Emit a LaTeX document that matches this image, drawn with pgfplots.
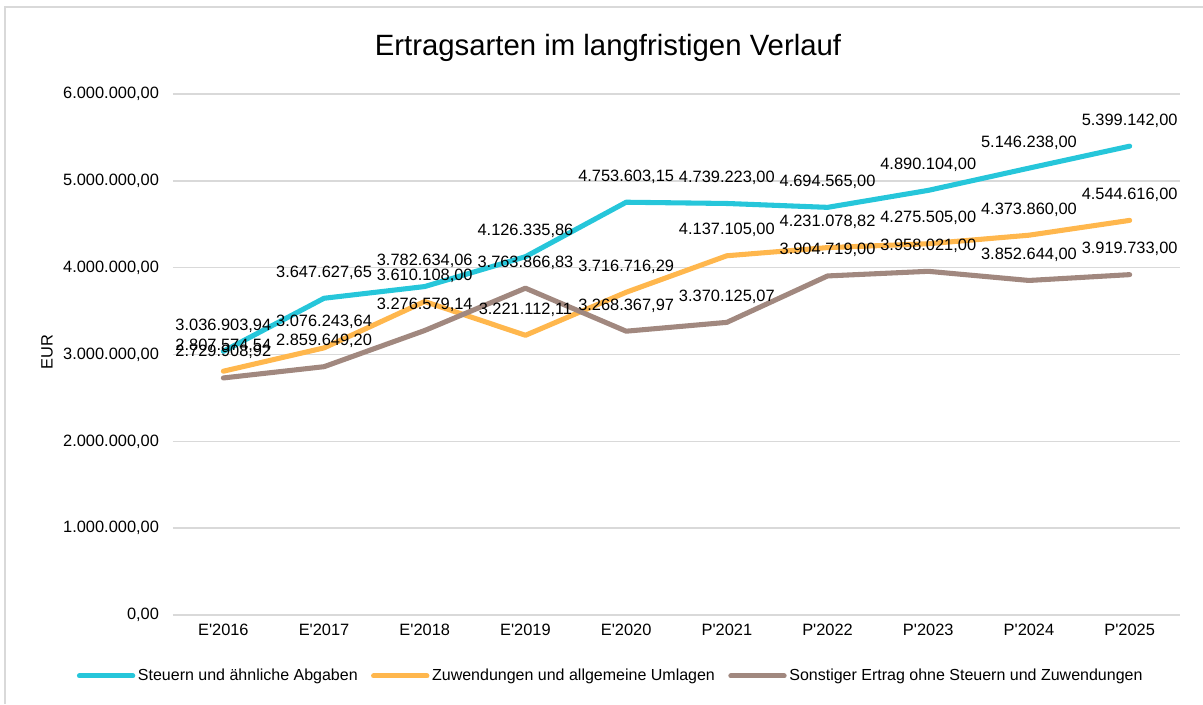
\documentclass[border=0pt]{standalone}
\usepackage{pgfplots}
\pgfplotsset{compat=1.18}
\usepackage{pgfplotstable}
\usepackage{fontspec}
\setmainfont{Liberation Sans}
\definecolor{cSt}{HTML}{26C6DA}
\definecolor{cZu}{HTML}{FFB74D}
\definecolor{cSo}{HTML}{A1887F}
\definecolor{cGrid}{HTML}{D9D9D9}

\pgfplotstableread{
x y lab
0 3036903.94 3.036.903,94
1 3647627.65 3.647.627,65
2 3782634.06 3.782.634,06
3 4126335.86 4.126.335,86
4 4753603.15 4.753.603,15
5 4739223.00 4.739.223,00
6 4694565.00 4.694.565,00
7 4890104.00 4.890.104,00
8 5146238.00 5.146.238,00
9 5399142.00 5.399.142,00
}\tSt
\pgfplotstableread{
x y lab
0 2807574.54 2.807.574,54
1 3076243.64 3.076.243,64
2 3610108.00 3.610.108,00
3 3221112.11 3.221.112,11
4 3716716.29 3.716.716,29
5 4137105.00 4.137.105,00
6 4231078.82 4.231.078,82
7 4275505.00 4.275.505,00
8 4373860.00 4.373.860,00
9 4544616.00 4.544.616,00
}\tZu
\pgfplotstableread{
x y lab
0 2729908.92 2.729.908,92
1 2859649.20 2.859.649,20
2 3276579.14 3.276.579,14
3 3763866.83 3.763.866,83
4 3268367.97 3.268.367,97
5 3370125.07 3.370.125,07
6 3904719.00 3.904.719,00
7 3958021.00 3.958.021,00
8 3852644.00 3.852.644,00
9 3919733.00 3.919.733,00
}\tSo

\begin{document}
\begin{tikzpicture}
\path[use as bounding box] (0pt,0pt) rectangle (902.25pt,528pt);
\draw[cGrid, line width=1pt] (3.75pt,0pt) -- (3.75pt,522.75pt) -- (910pt,522.75pt);
\node[font=\fontsize{22}{26}\selectfont] at (456pt,492pt) {Ertragsarten im langfristigen Verlauf};
\begin{axis}[
  at={(129.75pt,66.75pt)}, anchor=south west,
  scale only axis, width=755.25pt, height=390.75pt,
  xmin=-0.5, xmax=9.5, ymin=0, ymax=6000000,
  clip=false,
  scaled y ticks=false,
  axis line style={draw=none},
  major tick length=0pt,
  ymajorgrids, grid style={cGrid, line width=1.1pt},
  xtick={0,...,9},
  xticklabels={E\textquotesingle 2016,E\textquotesingle 2017,E\textquotesingle 2018,E\textquotesingle 2019,E\textquotesingle 2020,P\textquotesingle 2021,P\textquotesingle 2022,P\textquotesingle 2023,P\textquotesingle 2024,P\textquotesingle 2025},
  ytick={0,1000000,2000000,3000000,4000000,5000000,6000000},
  yticklabels={{0,00},{1.000.000,00},{2.000.000,00},{3.000.000,00},{4.000.000,00},{5.000.000,00},{6.000.000,00}},
  tick label style={font=\fontsize{12.3}{14}\selectfont},
  yticklabel style={xshift=-7pt},
  xticklabel style={yshift=-3.5pt},
  ylabel={EUR},
  ylabel style={at={(axis description cs:-0.125,0.505)}, anchor=center, font=\fontsize{12.3}{14}\selectfont},
  nodes near coords={\pgfplotspointmeta},
  point meta=explicit symbolic,
  every node near coord/.append style={font=\fontsize{12.3}{14}\selectfont, anchor=south, yshift=9pt, text=black},
  every axis plot/.append style={line width=3.8pt, line cap=round, line join=round, mark=none},
  legend columns=3,
  legend style={at={(axis description cs:0.435,-0.117)}, anchor=center, draw=none, fill=none,
    font=\fontsize{12}{14}\selectfont,
    /tikz/every even column/.append style={column sep=8pt}},
  legend image code/.code={\draw[#1] (0pt,0pt) -- (40pt,0pt);},
]
\addplot[cSt] table[x=x, y=y, meta=lab] {\tSt};
\addlegendentry{Steuern und ähnliche Abgaben}
\addplot[cZu] table[x=x, y=y, meta=lab] {\tZu};
\addlegendentry{Zuwendungen und allgemeine Umlagen}
\addplot[cSo] table[x=x, y=y, meta=lab] {\tSo};
\addlegendentry{Sonstiger Ertrag ohne Steuern und Zuwendungen}
\end{axis}
\end{tikzpicture}
\end{document}
